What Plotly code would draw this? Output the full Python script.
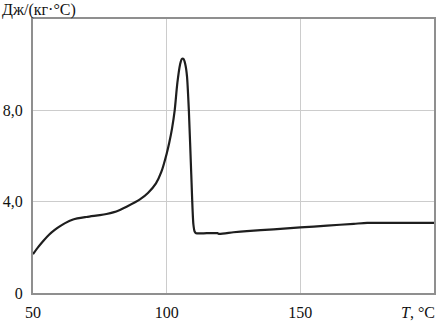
import plotly.graph_objects as go

T = [50, 52, 54, 56, 58, 60, 62, 65, 70, 75, 77.5, 80, 82.5, 85, 90, 93, 96, 98, 100, 101, 102, 103, 104, 105,
     105.7, 106.3, 107, 107.6, 108.3, 109.2, 110, 110.5, 111, 115, 119, 119.5, 125, 130, 140, 150,
     160, 170, 175, 180, 190, 200]
Cp = [1.7, 2.02, 2.3, 2.55, 2.75, 2.92, 3.06, 3.22, 3.33, 3.41, 3.46, 3.53, 3.64, 3.78, 4.1, 4.38, 4.8, 5.3, 6.1, 6.6, 7.2, 8.0, 9.2, 10.0,
      10.25, 10.25, 10.0, 9.5, 8.0, 5.2, 3.0, 2.68, 2.62, 2.62, 2.62, 2.59, 2.66, 2.71, 2.79, 2.87,
      2.95, 3.03, 3.07, 3.07, 3.07, 3.07]

xticks = [50, 100, 150]
xticktext = ["50", "100", "150"]
yticks = [0, 4, 8]
yticktext = ["0", "4,0", "8,0"]

font = "Liberation Serif, Times New Roman, serif"

fig = go.Figure()
fig.add_trace(go.Scatter(x=T, y=Cp, mode="lines", line=dict(color="#1e1e1e", width=2.2, shape="spline", smoothing=0.7),
                         showlegend=False, hoverinfo="skip"))

fig.update_layout(
    width=437, height=321,
    margin=dict(l=33, r=3, t=19, b=28),
    paper_bgcolor="white", plot_bgcolor="white",
    font=dict(family=font, size=16, color="#111"),
    xaxis=dict(range=[50, 200], tickvals=xticks, ticktext=xticktext, showgrid=True,
               gridcolor="#cccccc", gridwidth=1.2, showline=True, mirror=True, linecolor="#8f8f8f",
               linewidth=2, ticks="", zeroline=False, ticklabelstandoff=4, automargin=False),
    yaxis=dict(range=[0, 12], tickvals=yticks, ticktext=yticktext, showgrid=True,
               gridcolor="#cccccc", gridwidth=1.2, showline=True, mirror=True, linecolor="#8f8f8f",
               linewidth=2, ticks="", zeroline=False, ticklabelstandoff=5, automargin=False),
    annotations=[
        dict(text="Дж/(кг·°C)", xref="paper", yref="paper", x=-33/401, y=1, xanchor="left",
             yanchor="middle", yshift=9, showarrow=False, font=dict(family=font, size=16, color="#111")),
        dict(text="<i>T</i>, °C", xref="paper", yref="paper", x=(418-33)/401, y=0, xanchor="center",
             yanchor="middle", yshift=-19, showarrow=False, font=dict(family=font, size=16, color="#111")),
    ],
)

fig.write_html("out.html", config={"displayModeBar": False},
               post_script="document.body.style.margin='0';document.body.style.padding='0';")
